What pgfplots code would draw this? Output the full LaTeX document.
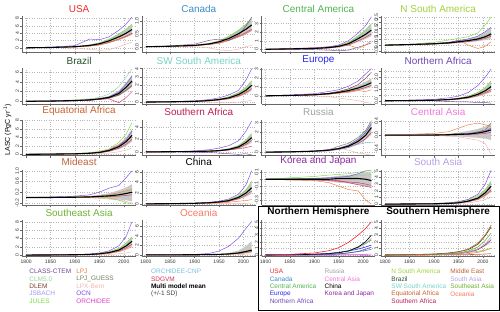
\documentclass[border=0pt]{standalone}
\usepackage{pgfplots}
\pgfplotsset{compat=1.18}
\usepackage{pgfplotstable}
\usepgfplotslibrary{fillbetween}
\usepackage{fontspec}
\setmainfont{Liberation Sans}

\definecolor{cCLASS}{RGB}{110,70,150}
\definecolor{cCLM}{RGB}{150,210,150}
\definecolor{cDLEM}{RGB}{120,60,40}
\definecolor{cJSB}{RGB}{160,150,240}
\definecolor{cJUL}{RGB}{120,220,60}
\definecolor{cLPJ}{RGB}{240,120,60}
\definecolor{cLPJG}{RGB}{110,130,90}
\definecolor{cLPX}{RGB}{240,180,170}
\definecolor{cOCN}{RGB}{120,70,240}
\definecolor{cORC}{RGB}{220,60,200}
\definecolor{cCNP}{RGB}{120,190,220}
\definecolor{cSDG}{RGB}{210,50,90}
\definecolor{bandc}{RGB}{200,200,200}

\definecolor{rUSA}{RGB}{240,40,40}
\definecolor{rCAN}{RGB}{60,140,200}
\definecolor{rCAM}{RGB}{80,180,80}
\definecolor{rEUR}{RGB}{40,40,240}
\definecolor{rNAF}{RGB}{110,70,180}
\definecolor{rRUS}{RGB}{160,160,160}
\definecolor{rCAS}{RGB}{240,120,220}
\definecolor{rCHN}{RGB}{0,0,0}
\definecolor{rKOR}{RGB}{140,40,160}
\definecolor{rNSA}{RGB}{160,210,60}
\definecolor{rBRA}{RGB}{40,80,40}
\definecolor{rSWS}{RGB}{120,210,200}
\definecolor{rEAF}{RGB}{200,100,50}
\definecolor{rSAF}{RGB}{190,30,80}
\definecolor{rMEA}{RGB}{190,100,60}
\definecolor{rSAS}{RGB}{180,160,230}
\definecolor{rSEA}{RGB}{110,180,50}
\definecolor{rOCE}{RGB}{250,120,100}

\pgfplotstableread{
yr lo hi mn a b c d e f
1800 0 0 0 0 0 0 0 0 0
1850 .05 .15 .10 .20 .10 .10 .05 .12 .08
1900 .20 .40 .30 .60 .30 .25 -.10 .35 .25
1930 .45 .85 .65 2.40 .70 .50 -.40 .80 .50
1950 .75 1.45 1.10 2.20 1.25 .75 -.70 1.30 .85
1970 1.35 2.50 1.90 3.00 2.25 1.40 -.50 2.10 1.50
1990 2.15 3.90 3.00 4.80 3.75 2.25 .30 3.40 2.40
2005 2.90 5.15 4.00 6.50 5.10 3.00 1.00 4.50 3.20
2017 3.60 6.40 5.00 8.40 6.50 3.75 1.60 5.60 4.00
}\tUSA
\pgfplotstableread{
yr lo hi mn a b c d e f
1800 0 0 0 0 0 0 0 0 0
1850 .01 .03 .02 .03 .02 .02 .01 .02 .02
1900 .03 .07 .05 .10 .05 .04 .00 .06 .04
1930 .08 .14 .11 .25 .12 .09 -.05 .13 .09
1950 .13 .25 .19 .30 .21 .13 -.12 .21 .15
1970 .23 .43 .32 .25 .38 .24 -.15 .36 .26
1990 .37 .66 .51 .45 .64 .38 -.10 .58 .41
2005 .49 .88 .68 .80 .87 .51 .00 .76 .55
2017 .61 1.09 .85 1.15 1.10 .64 .05 .97 .68
}\tCAN
\pgfplotstableread{
yr lo hi mn a b c d e f
1800 0 0 0 0 0 0 0 0 0
1850 .025 .075 .05 .05 .05 .10 .00 .05 .05
1900 .05 .15 .10 .15 .10 .20 -.05 .125 .075
1930 .125 .275 .20 .30 .25 .30 -.10 .225 .15
1950 .25 .45 .35 .50 .40 .40 -.15 .40 .275
1970 .45 .85 .65 1.00 .80 .50 -.10 .75 .50
1990 .85 1.65 1.25 1.90 1.50 .10 .25 1.40 1.00
2005 1.20 2.30 1.75 2.75 2.25 .50 .50 2.00 1.40
2017 1.55 3.00 2.25 3.80 3.00 1.00 .75 2.50 1.80
}\tCAM
\pgfplotstableread{
yr lo hi mn a b c d e f
1800 0 0 0 0 0 0 0 0 0
1850 .03 .07 .05 .08 .05 .05 .03 .06 .04
1900 .08 .16 .12 .25 .15 .12 .10 .14 .10
1930 .12 .28 .20 .45 .25 .20 .18 .23 .16
1950 .18 .42 .30 .60 .40 .45 .30 .34 .24
1970 .25 .58 .40 .75 .55 .00 .45 .46 .32
1990 .35 .80 .55 1.10 .80 -.30 .50 .63 .44
2005 .45 1.15 .75 1.80 1.20 -.10 .70 .86 .60
2017 .55 1.55 1.00 2.50 1.60 .30 .90 1.15 .80
}\tNSA
\pgfplotstableread{
yr lo hi mn a b c d e f
1800 0 0 0 0 0 0 0 0 0
1850 .03 .07 .05 .10 .05 .05 .03 .06 .04
1900 .10 .20 .15 .30 .15 .10 .10 .17 .12
1930 .20 .40 .30 .50 .30 .20 .20 .35 .24
1950 .35 .65 .50 .80 .50 .40 .40 .55 .40
1970 .55 1.10 .80 1.50 .90 .50 .70 .90 .65
1990 1.10 2.20 1.60 3.00 1.90 -.30 1.30 1.80 1.30
2005 2.00 3.90 2.90 5.00 3.50 .80 2.30 3.20 2.30
2017 3.00 5.50 4.20 6.70 5.20 2.00 3.10 4.70 3.40
}\tBRA
\pgfplotstableread{
yr lo hi mn a b c d e f
1800 0 0 0 0 0 0 0 0 0
1850 .02 .04 .03 .05 .03 .03 .01 .03 .02
1900 .05 .11 .08 .15 .10 .07 .02 .09 .06
1930 .12 .24 .18 .30 .20 .15 .00 .20 .14
1950 .20 .40 .30 .50 .35 .30 -.05 .33 .24
1970 .33 .68 .50 .85 .60 .45 -.10 .55 .40
1990 .60 1.20 .90 1.40 1.10 .80 .00 1.00 .72
2005 .95 1.85 1.40 2.60 1.70 1.20 .10 1.55 1.10
2017 1.35 2.60 2.00 4.00 2.50 1.60 .20 2.20 1.60
}\tSWS
\pgfplotstableread{
yr lo hi mn a b c d e f
1800 0 0 0 0 0 0 0 0 0
1850 .03 .07 .05 .10 .05 .05 .02 .06 .04
1900 .08 .16 .12 .25 .15 .10 .00 .14 .10
1930 .17 .33 .25 .50 .30 .20 -.10 .28 .20
1950 .27 .53 .40 .70 .50 .30 -.25 .45 .32
1970 .40 .80 .60 1.10 .80 .40 -.40 .68 .48
1990 .60 1.20 .90 1.70 1.30 .60 -.55 1.00 .72
2005 .80 1.60 1.20 2.50 2.00 .50 -.75 1.35 .95
2017 1.00 2.00 1.50 3.10 2.70 .70 -.85 1.70 1.20
}\tEUR
\pgfplotstableread{
yr lo hi mn a b c d e f
1800 0 0 0 0 0 0 0 0 0
1850 .01 .03 .02 .05 .03 .02 .00 .02 .02
1900 .03 .07 .05 .12 .06 .05 -.02 .06 .04
1930 .06 .14 .10 .25 .12 .10 -.05 .11 .08
1950 .11 .25 .18 .40 .20 .20 -.10 .20 .14
1970 .18 .42 .30 .70 .38 .35 -.10 .33 .24
1990 .35 .75 .55 1.30 .70 .50 -.15 .60 .44
2005 .55 1.15 .85 2.00 1.10 .65 -.15 .95 .68
2017 .75 1.65 1.20 2.70 1.70 .80 -.20 1.35 .95
}\tNAF
\pgfplotstableread{
yr lo hi mn a b c d e f
1800 0 0 0 0 0 0 0 0 0
1850 .03 .07 .05 .08 .05 .05 .02 .06 .04
1900 .08 .16 .12 .20 .15 .12 .05 .14 .10
1930 .17 .33 .25 .40 .30 .25 .10 .28 .20
1950 .30 .60 .45 .70 .50 .50 .15 .50 .36
1970 .60 1.20 .90 1.30 1.00 1.10 .30 1.00 .72
1990 1.20 2.40 1.80 2.80 2.00 2.30 .60 2.00 1.45
2005 2.00 4.00 3.00 4.80 3.50 3.30 1.00 3.30 2.40
2017 3.00 6.00 4.50 7.50 5.50 4.00 1.50 5.00 3.60
}\tEAF
\pgfplotstableread{
yr lo hi mn a b c d e f
1800 0 0 0 0 0 0 0 0 0
1850 .01 .03 .02 .05 .03 .02 .00 .02 .02
1900 .04 .08 .06 .15 .08 .05 -.05 .07 .05
1930 .08 .16 .12 .35 .15 .10 -.10 .13 .10
1950 .13 .28 .20 .60 .25 .15 -.20 .22 .16
1970 .25 .55 .40 1.00 .50 .30 -.30 .45 .32
1990 .50 1.10 .80 1.80 1.00 .50 -.40 .90 .64
2005 .95 2.00 1.50 3.30 1.80 .70 -.30 1.65 1.20
2017 1.50 3.10 2.30 5.00 2.80 .90 -.50 2.55 1.85
}\tSAF
\pgfplotstableread{
yr lo hi mn a b c d e f
1800 0 0 0 0 0 0 0 0 0
1850 .02 .04 .03 .03 .04 .02 .02 .03 .02
1900 .07 .13 .10 .10 .12 .07 .05 .11 .08
1930 .14 .26 .20 .25 .25 .15 .10 .22 .16
1950 .25 .45 .35 .60 .40 .30 .40 .39 .28
1970 .42 .78 .60 .90 .70 .50 .20 .66 .48
1990 .80 1.40 1.10 1.50 1.30 .80 -.10 1.20 .88
2005 1.25 2.15 1.70 2.20 2.00 .95 -.20 1.90 1.35
2017 1.80 3.10 2.50 3.20 2.90 1.00 -.30 2.80 2.00
}\tRUS
\pgfplotstableread{
yr lo hi mn a b c d e f
1800 0 0 0 0 0 0 0 0 0
1850 -.01 .01 .00 .02 .00 .00 -.01 .00 .00
1900 -.02 .02 .00 .05 .01 .01 -.02 .01 .00
1930 -.03 .04 .01 .10 .02 .02 -.03 .02 .00
1950 -.04 .07 .02 .20 .05 .03 -.05 .03 .01
1970 -.06 .12 .03 .30 .02 .05 -.10 .05 .02
1990 -.08 .18 .06 .35 .10 .08 -.15 .08 .03
2005 -.10 .25 .10 .30 .15 .12 -.25 .13 .05
2017 -.15 .35 .15 .25 .35 .20 -.55 .20 .08
}\tCAS
\pgfplotstableread{
yr lo hi mn a b c d e f
1800 0 0 0 0 0 0 0 0 0
1850 -.01 .01 .00 .02 .01 .01 .00 .01 .00
1900 -.01 .03 .01 .05 .02 .02 .00 .02 .01
1930 -.02 .05 .02 .10 .03 .04 -.01 .03 .01
1950 -.03 .10 .04 .20 .02 .06 -.03 .05 .02
1970 -.05 .16 .06 .35 -.02 .10 -.06 .08 .03
1990 -.08 .27 .10 .45 -.10 .18 -.10 .13 .05
2005 -.10 .38 .15 .75 -.20 .25 -.15 .20 .08
2017 -.15 .50 .20 1.00 -.25 .30 -.20 .27 .10
}\tMEA
\pgfplotstableread{
yr lo hi mn a b c d e f
1800 0 0 0 0 0 0 0 0 0
1850 .02 .04 .03 .05 .04 .02 .01 .03 .02
1900 .07 .13 .10 .15 .12 .06 .02 .11 .08
1930 .14 .26 .20 .30 .25 .10 .03 .22 .16
1950 .25 .45 .35 .50 .40 .20 .05 .39 .28
1970 .40 .80 .60 .90 .70 .30 .05 .66 .48
1990 .80 1.60 1.20 1.80 1.40 .50 .10 1.30 .95
2005 1.30 2.70 2.00 3.50 2.50 .60 .10 2.20 1.60
2017 1.90 4.10 3.00 6.20 4.20 .80 .15 3.40 2.40
}\tCHN
\pgfplotstableread{
yr lo hi mn a b c d e f
1800 0 0 0 0 0 0 0 0 0
1850 -.01 .01 .00 .02 .00 -.01 .00 .01 -.01
1900 -.02 .02 .00 .04 .01 -.02 .00 .01 -.01
1930 -.03 .03 .00 .06 .02 -.05 -.01 .02 -.02
1950 -.05 .05 .01 .07 .03 -.10 -.02 .03 -.03
1970 -.06 .06 .01 .08 .04 -.15 -.05 .04 -.04
1990 -.08 .08 .01 .10 .08 -.17 -.08 .05 -.05
2005 -.10 .10 .00 .12 .12 -.30 -.10 .06 -.07
2017 -.12 .10 -.02 .13 .12 -.36 -.12 .07 -.09
}\tKOR
\pgfplotstableread{
yr lo hi mn a b c d e f
1800 0 0 0 0 0 0 0 0 0
1850 .01 .03 .02 .04 .05 .02 .01 .02 .02
1900 .03 .07 .05 .10 .12 .05 .02 .06 .04
1930 .07 .13 .10 .20 .20 .10 .05 .11 .08
1950 .13 .27 .20 .35 .40 .20 .10 .22 .16
1970 .30 .60 .45 .70 .70 .40 .20 .50 .36
1990 .60 1.20 .90 1.50 1.30 .80 .40 1.00 .72
2005 1.15 2.25 1.70 3.00 2.20 1.40 .70 1.90 1.35
2017 1.80 3.60 2.70 5.10 3.20 2.00 1.00 3.00 2.15
}\tSAS
\pgfplotstableread{
yr lo hi mn a b c d e f
1800 0 0 0 0 0 0 0 0 0
1850 .02 .04 .03 .05 .05 .02 .01 .03 .02
1900 .05 .11 .08 .12 .10 .05 .02 .09 .06
1930 .10 .20 .15 .25 .20 .10 .05 .17 .12
1950 .20 .40 .30 .50 .40 .20 .10 .33 .24
1970 .40 .80 .60 1.00 .80 .40 .15 .66 .48
1990 .80 1.60 1.20 2.20 1.60 .80 .30 1.30 .95
2005 1.40 3.00 2.20 4.50 2.80 1.40 .50 2.40 1.75
2017 2.20 4.50 3.30 8.00 4.30 2.00 .80 3.70 2.60
}\tSEA
\pgfplotstableread{
yr lo hi mn a b c d e f
1800 0 0 0 0 0 0 0 0 0
1850 .00 .02 .01 .03 .01 .01 .00 .01 .01
1900 .01 .05 .03 .10 .03 .02 .01 .03 .02
1930 .02 .10 .06 .30 .06 .04 .02 .07 .05
1950 .04 .18 .10 .80 .10 .08 .03 .12 .08
1970 .08 .40 .20 1.80 .20 .15 .05 .24 .15
1990 .15 .90 .40 3.50 .40 .30 .10 .50 .30
2005 .30 1.80 .70 5.50 .70 .50 .15 .85 .50
2017 .40 2.90 1.00 7.00 1.00 .70 .20 1.25 .75
}\tOCE

\pgfplotsset{
  pan/.style={
    scale only axis, width=114pt, height=36pt, anchor=south west,
    xmin=1792, xmax=2025,
    xtick={1800,1850,1900,1950,2000}, xticklabels={},
    axis x line*=bottom, axis y line*=left,
    grid=major, grid style={dotted, black!28, line width=0.35pt},
    axis line style={black!60, line width=0.4pt},
    tick style={black!60, line width=0.4pt},
    major tick length=2pt, tick align=outside,
    yticklabel style={rotate=90, anchor=south, font=\fontsize{5}{5}\selectfont, inner sep=1pt, text=black!80},
    xticklabel style={font=\fontsize{5}{5}\selectfont, inner sep=1pt, text=black!80},
    title style={at={(0.5,1)}, anchor=south, yshift=-4pt, inner sep=1.5pt, font=\fontsize{10}{10}\selectfont},
  },
  mline/.style={line width=0.45pt, no marks},
}

\newcommand{\panel}[9]{%
 \begin{axis}[pan, at={#1}, title={\textcolor{#3}{#2}}, #5]
  \addplot[name path=H, draw=none, forget plot] table[x=yr,y=hi]{#4};
  \addplot[name path=L, draw=none, forget plot] table[x=yr,y=lo]{#4};
  \addplot[fill=bandc, draw=none] fill between[of=H and L];
  \addplot[mline, cCLM] table[x=yr,y=e]{#4};
  \addplot[mline, cSDG] table[x=yr,y=f]{#4};
  \addplot[mline, #9] table[x=yr,y=d]{#4};
  \addplot[mline, #8] table[x=yr,y=c]{#4};
  \addplot[mline, #7] table[x=yr,y=b]{#4};
  \addplot[mline, #6] table[x=yr,y=a]{#4};
  \addplot[line width=1.1pt, black, no marks] table[x=yr,y=mn]{#4};
 \end{axis}}

\begin{document}
\begin{tikzpicture}
\path (0,0) rectangle (500pt,312pt);

% Row 1
\panel{(21pt,260pt)}{USA}{rUSA}{\tUSA}{ymin=-1.1,ymax=8.7,ytick={0,2,4,6,8},yticklabels={0,2,4,6,8}}{cOCN}{cJUL}{cLPJ}{cLPX}
\panel{(141pt,260pt)}{Canada}{rCAN}{\tCAN}{ymin=-0.2,ymax=1.2,ytick={0,0.5,1},yticklabels={0.0,0.5,1.0}}{cCLASS}{cJUL}{cLPJ}{cLPX}
\panel{(261pt,260pt)}{Central America}{rCAM}{\tCAM}{ymin=-0.3,ymax=3.9,ytick={0,1,2,3},yticklabels={0,1,2,3}}{cOCN}{cJUL}{cLPJ}{cCLASS}
\panel{(381pt,260pt)}{N South America}{rNSA}{\tNSA}{ymin=-0.6,ymax=2.6,ytick={-0.5,0,0.5,1,1.5,2,2.5},yticklabels={-0.5,0.0,0.5,1.0,1.5,2.0,2.5}}{cJUL}{cOCN}{cLPJ}{cLPJG}
% Row 2
\panel{(21pt,208pt)}{Brazil}{rBRA}{\tBRA}{ymin=-0.5,ymax=6.9,ytick={0,2,4,6},yticklabels={0,2,4,6}}{cCLM}{cOCN}{cSDG}{cLPJG}
\panel{(141pt,208pt)}{SW South America}{rSWS}{\tSWS}{ymin=-0.2,ymax=4.1,ytick={0,1,2,3,4},yticklabels={0,1,2,3,4}}{cOCN}{cJUL}{cLPJ}{cLPX}
\panel{(261pt,208pt)}{Europe}{rEUR}{\tEUR}{ymin=-0.9,ymax=3.2,ytick={0,1,2,3},yticklabels={0,1,2,3}}{cOCN}{cDLEM}{cLPJ}{cLPX}
\panel{(381pt,208pt)}{Northern Africa}{rNAF}{\tNAF}{ymin=-0.25,ymax=2.8,ytick={0,0.5,1,1.5,2,2.5},yticklabels={0.0,,1.0,,2.0,}}{cOCN}{cJUL}{cLPJ}{cCLASS}
% Row 3
\panel{(21pt,156pt)}{Equatorial Africa}{rEAF}{\tEAF}{ymin=-0.3,ymax=8.2,ytick={0,2,4,6,8},yticklabels={0,2,4,6,8}}{cJUL}{cOCN}{cLPJ}{cLPX}
\panel{(141pt,156pt)}{Southern Africa}{rSAF}{\tSAF}{ymin=-0.6,ymax=5.2,ytick={0,2,4},yticklabels={0,2,4}}{cOCN}{cJUL}{cSDG}{cCLASS}
\panel{(261pt,156pt)}{Russia}{rRUS}{\tRUS}{ymin=-0.35,ymax=3.3,ytick={0,1,2,3},yticklabels={0,1,2,3}}{cLPJG}{cOCN}{cCNP}{cLPX}
\panel{(381pt,156pt)}{Central Asia}{rCAS}{\tCAS}{ymin=-0.6,ymax=0.45,ytick={-0.4,0,0.4},yticklabels={-0.4,0.0,0.4}}{cLPJ}{cLPJG}{cOCN}{cLPX}
% Row 4
\panel{(21pt,106pt)}{Mideast}{rMEA}{\tMEA}{ymin=-0.3,ymax=1.05,ytick={-0.2,0.2,0.6,1.0},yticklabels={-0.2,0.2,0.6,1.0}}{cOCN}{cJUL}{cLPJ}{cLPX}
\panel{(141pt,106pt)}{China}{rCHN}{\tCHN}{ymin=-0.3,ymax=6.4,ytick={0,2,4,6},yticklabels={0,2,4,6}}{cOCN}{cJUL}{cLPJ}{cLPX}
\panel{(261pt,106pt)}{Korea and Japan}{rKOR}{\tKOR}{ymin=-0.38,ymax=0.14,ytick={-0.3,-0.2,-0.1,0,0.1},yticklabels={-0.3,,-0.1,,0.1}}{cJUL}{cOCN}{cLPJ}{cSDG}
\panel{(381pt,106pt)}{South Asia}{rSAS}{\tSAS}{ymin=-0.2,ymax=5.2,ytick={0,1,2,3,4,5},yticklabels={0,1,2,3,4,5}}{cOCN}{cJUL}{cLPJ}{cLPX}
% Row 5
\panel{(21pt,55pt)}{Southeast Asia}{rSEA}{\tSEA}{ymin=-0.3,ymax=8.3,ytick={0,2,4,6,8},yticklabels={0,2,4,6,8},xticklabels={1800,1850,1900,1950,2000}}{cOCN}{cJUL}{cLPJ}{cLPX}
\panel{(141pt,55pt)}{Oceania}{rOCE}{\tOCE}{ymin=-0.3,ymax=7.2,ytick={0,2,4,6},yticklabels={0,2,4,6},xticklabels={1800,1850,1900,1950,2000}}{cOCN}{cJUL}{cLPJ}{cLPX}

\begin{axis}[pan, at={(261pt,55pt)}, title={\textbf{Northern Hemisphere}}, ymin=-0.2, ymax=5.2, ytick={0,1,2,3,4,5}, yticklabels={0,1,2,3,4,5}, xticklabels={1800,1850,1900,1950,2000}]
 \addplot[mline, line width=0.6pt, rKOR] table[x=yr,y=mn]{\tKOR};
 \addplot[mline, line width=0.6pt, rCAS] table[x=yr,y=mn]{\tCAS};
 \addplot[mline, line width=0.6pt, rCAM] table[x=yr,y=mn]{\tCAM};
 \addplot[mline, line width=0.6pt, rCAN] table[x=yr,y=mn]{\tCAN};
 \addplot[mline, line width=0.6pt, rNAF] table[x=yr,y=mn]{\tNAF};
 \addplot[mline, line width=0.6pt, rEUR] table[x=yr,y=mn]{\tEUR};
 \addplot[mline, line width=0.6pt, rRUS] table[x=yr,y=mn]{\tRUS};
 \addplot[mline, line width=0.6pt, rCHN] table[x=yr,y=mn]{\tCHN};
 \addplot[mline, line width=0.6pt, rUSA] table[x=yr,y=mn]{\tUSA};
\end{axis}
\begin{axis}[pan, at={(381pt,55pt)}, title={\textbf{Southern Hemisphere}}, ymin=-0.2, ymax=5.2, ytick={0,1,2,3,4,5}, yticklabels={0,1,2,3,4,5}, xticklabels={1800,1850,1900,1950,2000}]
 \addplot[mline, line width=0.6pt, rMEA] table[x=yr,y=mn]{\tMEA};
 \addplot[mline, line width=0.6pt, rOCE] table[x=yr,y=mn]{\tOCE};
 \addplot[mline, line width=0.6pt, rNSA] table[x=yr,y=mn]{\tNSA};
 \addplot[mline, line width=0.6pt, rSWS] table[x=yr,y=mn]{\tSWS};
 \addplot[mline, line width=0.6pt, rSAF] table[x=yr,y=mn]{\tSAF};
 \addplot[mline, line width=0.6pt, rSAS] table[x=yr,y=mn]{\tSAS};
 \addplot[mline, line width=0.6pt, rSEA] table[x=yr,y=mn]{\tSEA};
 \addplot[mline, line width=0.6pt, rBRA] table[x=yr,y=mn]{\tBRA};
 \addplot[mline, line width=0.6pt, rEAF] table[x=yr,y=mn]{\tEAF};
\end{axis}

\draw[line width=0.6pt] (258pt,0.5pt) rectangle (499.5pt,105pt);

\node[rotate=90, font=\fontsize{7}{7}\selectfont] at (6pt,182pt) {LASC (PgC yr\textsuperscript{-1})};

% model legend
\begin{scope}[every node/.style={anchor=west, font=\fontsize{6.5}{6.5}\selectfont, inner sep=0pt}]
\node[text=cCLASS] at (28pt,40pt) {CLASS-CTEM};
\node[text=cCLM] at (28pt,32.5pt) {CLM5.0};
\node[text=cDLEM] at (28pt,25pt) {DLEM};
\node[text=cJSB] at (28pt,17.5pt) {JSBACH};
\node[text=cJUL] at (28pt,10pt) {JULES};
\node[text=cLPJ] at (75pt,40pt) {LPJ};
\node[text=cLPJG] at (75pt,32.5pt) {LPJ\_GUESS};
\node[text=cLPX] at (75pt,25pt) {LPX-Bern};
\node[text=cOCN] at (75pt,17.5pt) {OCN};
\node[text=cORC] at (75pt,10pt) {ORCHIDEE};
\node[text=cCNP] at (150pt,40pt) {ORCHIDEE-CNP};
\node[text=cSDG] at (150pt,32.5pt) {SDGVM};
\node[text=black] at (150pt,25pt) {\textbf{Multi model mean}};
\node[text=black!75] at (150pt,17.5pt) {(+/-1 SD)};
% hemisphere legend
\node[text=rUSA] at (269pt,40pt) {USA};
\node[text=rCAN] at (269pt,32.5pt) {Canada};
\node[text=rCAM] at (269pt,25pt) {Central America};
\node[text=rEUR] at (269pt,17.5pt) {Europe};
\node[text=rNAF] at (269pt,10pt) {Northern Africa};
\node[text=rRUS] at (324pt,40pt) {Russia};
\node[text=rCAS] at (324pt,32.5pt) {Central Asia};
\node[text=rCHN] at (324pt,25pt) {China};
\node[text=rKOR] at (324pt,17.5pt) {Korea and Japan};
\node[text=rNSA] at (391pt,40pt) {N South America};
\node[text=rBRA] at (391pt,32.5pt) {Brazil};
\node[text=rSWS] at (391pt,25pt) {SW South America};
\node[text=rEAF] at (391pt,17.5pt) {Equatorial Africa};
\node[text=rSAF] at (391pt,10pt) {Southern Africa};
\node[text=rMEA] at (450pt,40pt) {Middle East};
\node[text=rSAS] at (450pt,32.5pt) {South Asia};
\node[text=rSEA] at (450pt,25pt) {Southeast Asia};
\node[text=rOCE] at (450pt,17.5pt) {Oceania};
\end{scope}
\useasboundingbox (0,0) rectangle (500pt,312pt);
\end{tikzpicture}
\end{document}
